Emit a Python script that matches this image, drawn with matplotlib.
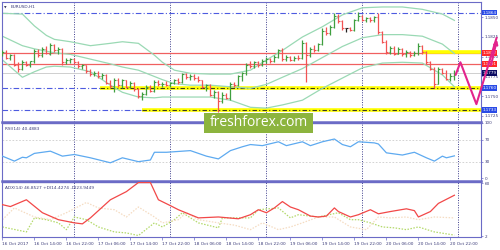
import matplotlib
matplotlib.use('Agg')
import matplotlib.pyplot as plt
from matplotlib.patches import Rectangle
import numpy as np

W, H = 500, 250
BASE, PIP = 1.17, 0.0001

# ---------------- data (prices in pips above 1.1700) ----------------
opens = [104,106,98,102,90,84,93,89,94,107, 102,110,104,115,108,110,93,96,97,93,
         88,89,82,78,80,75,77,67,63,71, 64,70,62,67,59,50,53,62,57,68,
         65,66,64,67,70,68,78,74,76,73, 70,62,64,52,55,44,52,48,66,64,
         75,79,90,88,93,89,95,97,94,100, 108,97,100,96,99,98,118,102,110,108,
         116,133,130,138,152,145,136,136,134,146, 151,147,149,146,150,131,119,106,111,104,
         110,103,106,102,105,114,106,93,85,66, 84,80,72,76]
highs = [108,109,104,103,93,96,95,95,110,110, 112,113,118,116,112,111,98,99,98,95,
         91,90,84,82,82,79,78,70,73,73, 72,71,69,68,61,55,64,64,70,70,
         68,69,68,72,73,80,79,78,78,76, 71,66,65,58,57,55,54,68,68,77,
         81,92,94,95,95,97,100,99,102,110, 111,102,101,101,102,121,119,112,115,118,
         136,138,140,155,154,147,137,138,148,157, 153,150,150,151,156,132,121,114,113,112,
         111,108,107,107,117,115,107,95,87,87, 86,83,79,83]
lows  = [101,97,96,88,81,83,88,87,92,100, 100,103,102,106,104,90,91,92,92,86,
         84,80,76,75,73,72,65,61,55,62, 61,60,60,57,48,45,51,55,56,63,
         62,63,62,65,66,67,72,71,71,68, 60,57,50,48,30,42,46,45,62,63,
         69,77,86,86,87,88,92,92,93,98, 95,95,95,95,96,97,68,100,106,107,
         115,128,127,136,143,134,131,132,133,145, 145,144,144,144,129,117,104,104,102,103,
         101,100,100,101,102,104,91,83,61,65, 78,70,69,70]
closes = [106,98,102,90,84,93,89,94,107,102, 110,105,115,108,110,93,96,97,93,88,
          89,82,78,80,75,77,67,63,71,64, 70,62,67,59,50,53,62,57,68,65,
          66,64,67,70,68,78,74,76,73,70, 62,64,52,55,44,52,48,66,64,75,
          79,90,88,93,89,95,97,94,100,108, 97,100,96,99,98,118,102,110,108,116,
          133,130,138,152,145,136,136,134,146,151, 147,149,146,150,131,119,106,111,104,110,
          103,106,102,105,114,106,93,85,66,84, 80,72,76,79]

bb_bars  = [0,5,8,11,13,17,22,27,30,34,38,40,43,47,52,57,62,66,70,75,80,85,90,95,100,105,110,113]
bb_upper = [155,154,139,127,122,119,114,117,119,117,102,93,83,79,78,78,83,96,108,125,138,153,162,163,163,160,154,146]
bb_mid   = [126,114,110,107,105,103,97,91,87,83,75,71,66,64,64,62,60,65,74,85,99,113,124,128,128,126,116,104]
bb_lower = [96,74,81,87,88,87,81,64,55,49,48,49,49,49,49,45,36,35,39,45,60,73,86,92,93,92,77,62]

rsi_bars = [0,3,5,6,8,12,15,18,22,27,30,34,37,38,41,45,47,51,54,57,60,62,65,69,71,75,77,80,83,85,87,89,93,94,96,100,103,106,108,110,111,113]
rsi_vals = [40,31,38,37,45,49,40,43,37,28,37,30,33,47,47,49,50,40,35,50,57,61,59,66,59,66,59,66,71,61,57,66,64,62,46,42,47,37,31,40,37,40.5]

adx_bars = [0,2,6,10,14,18,20,22,27,31,34,37,39,42,44,49,54,59,62,64,66,68,70,72,74,77,79,81,83,84,87,89,92,94,97,101,103,104,107,109,113]
adx_vals = [36.6,34.5,42,27.7,20,16.5,15.4,22,42,51,61,61,42,35.5,31,22,23,21,25.5,31,27.7,33,40,34,31,24,23,24,33,29,23,25.5,31,26.5,29,32,30,23,29,38,47]
pdi_bars = [0,6,8,11,14,16,18,21,24,28,31,34,38,40,43,45,49,54,55,58,62,64,69,72,74,79,84,87,89,92,95,98,101,104,108,113]
pdi_vals = [12,6.5,22,20,16.5,9,23,20,12,6.5,5.4,2.5,16.5,12,20,27.7,16.5,11,22,22,22,31,33,22,25.5,23,27.7,20,20,16.5,12,11,9,12,6.5,3]
mdi_bars = [0,3,8,12,16,21,24,28,31,34,38,40,44,46,49,54,58,62,65,69,72,75,79,83,87,91,94,97,101,104,108,113]
mdi_vals = [20,33,23,20,27.7,39,33,31,23,34,23,16.5,20,27.7,20,16.5,14,9,16.5,9,12,16.5,23,23,12,9,23,22,23,20,23,22]

price_ticks = [1.1850, 1.1825, 1.1800, 1.1775, 1.1750, 1.1725]
level_blue  = [1.1856, 1.1760, 1.1733]
level_red   = [1.1805, 1.1791]
level_bid   = 1.1779
box_labels  = [("1.1864", 1.1856, '#2a4be6'), ("1.1812", 1.1805, '#ff2a2a'),
               ("1.1791", 1.1791, '#ff2a2a'), ("1.1779", 1.1779, '#0c0c62'),
               ("1.1760", 1.1760, '#2a4be6'), ("1.1733", 1.1733, '#2a4be6')]
yellow_zones = [(24.5, 1.1760), (35.0, 1.1733), (105.0, 1.18055)]
arrow_bars   = [113.3, 114.5, 118.5, 123.8]
arrow_pips   = [77, 93, 40, 125]

time_labels = ["16 Oct 2017", "16 Oct 14:00", "16 Oct 22:00", "17 Oct 06:00", "17 Oct 14:00",
               "17 Oct 22:00", "18 Oct 06:00", "18 Oct 14:00", "18 Oct 22:00", "19 Oct 06:00",
               "19 Oct 14:00", "19 Oct 22:00", "20 Oct 06:00", "20 Oct 14:00", "20 Oct 22:00"]
time_bars = list(range(0, 113, 8))
day_bars = [18, 42, 66, 90, 114]

rsi_ticks = [100, 70, 30, 0]
adx_ticks = [60, 2]

# ---------------- figure ----------------
fig = plt.figure(figsize=(5, 2.5), dpi=100)
fig.patch.set_facecolor('white')

def rect(x0, y0, x1, y1):
    return [x0 / W, 1 - y1 / H, (x1 - x0) / W, (y1 - y0) / H]

FRAME = '#6b6bc6'
TXT = '#3a3a78'
FS = 3.1
FSR = 3.0

ax = fig.add_axes(rect(2, 2, 481, 122))
axr = fig.add_axes(rect(2, 123, 481, 181))
axa = fig.add_axes(rect(2, 182, 481, 237))

XL = (-0.1, 119.65)
for a in (ax, axr, axa):
    a.set_xlim(*XL)
    a.set_facecolor('white')
    for s in a.spines.values():
        s.set_color(FRAME)
        s.set_linewidth(0.8)
    a.tick_params(axis='both', colors=FRAME, labelcolor=TXT, labelsize=FSR, length=1.5, width=0.5, pad=1)
    a.yaxis.tick_right()
    a.set_xticks([])
    for d in day_bars:
        a.axvline(d, color='#3c3c8c', lw=0.7, ls=(0, (1, 1.5)), zorder=1)

ax.spines['bottom'].set_linewidth(1.8)
axr.spines['top'].set_linewidth(1.0)
axr.spines['bottom'].set_linewidth(1.8)
axa.spines['top'].set_linewidth(1.0)

# ---- main price panel ----
o = BASE + np.array(opens) * PIP
h = BASE + np.array(highs) * PIP
l = BASE + np.array(lows) * PIP
c = BASE + np.array(closes) * PIP
idx = np.arange(len(closes))
cols = np.where(c > o, '#3f9f3f', np.where(c < o, '#f25353', '#222222'))

ax.set_ylim(1.17174, 1.18693)
ax.set_yticks(price_ticks)
ax.set_yticklabels([f"{p:.4f}" for p in price_ticks])

for p in level_blue:
    ax.axhline(p, color='#4d5be0', lw=0.8, ls=(0, (5, 2, 1, 2)), zorder=2)
for p in level_red:
    ax.axhline(p, color='#f06060', lw=0.9, zorder=2)
ax.axhline(level_bid, color='#cfcfcf', lw=0.7, zorder=1.5)
for x0, p in yellow_zones:
    ax.plot([x0, XL[1]], [p, p], color='#ffff00', lw=2.6, solid_capstyle='butt', zorder=2.2)
for x0, p in yellow_zones[:2]:
    ax.plot([x0, XL[1]], [p, p], color='#3a3a20', lw=0.8, ls=(0, (4, 2, 1, 2)), zorder=2.3)

bbx = np.array(bb_bars)
for band in (bb_upper, bb_mid, bb_lower):
    ax.plot(bbx, BASE + np.array(band) * PIP, color='#9ad9b4', lw=0.9, zorder=2.5)

ax.vlines(idx, l, h, colors=cols, lw=0.9, zorder=3)
ax.hlines(o, idx - 0.45, idx, colors=cols, lw=0.8, zorder=3)
ax.hlines(c, idx, idx + 0.45, colors=cols, lw=0.8, zorder=3)

trans = ax.get_yaxis_transform()
for txt, p, col in box_labels:
    ax.text(1.003, p, txt, transform=trans, fontsize=FSR, color='white', va='center', ha='left',
            clip_on=False, zorder=6,
            bbox=dict(boxstyle='square,pad=0.22', fc=col, ec='none'))

ap = BASE + np.array(arrow_pips) * PIP
ax.plot(arrow_bars[:-1] + [arrow_bars[-1] - 0.25], list(ap[:-1]) + [ap[-1] - 0.00010],
        color='#e3248c', lw=1.5, clip_on=False, zorder=7, solid_capstyle='round', solid_joinstyle='round')
ax.annotate('', xy=(arrow_bars[-1], ap[-1]), xytext=(arrow_bars[-2] + 3.5, ap[-2] + 0.0046),
            arrowprops=dict(arrowstyle='-|>', color='#e3248c', lw=1.5, mutation_scale=6),
            annotation_clip=False, zorder=7)

ax.text(0.018, 0.975, "EURUSD,H1", transform=ax.transAxes, fontsize=FS, color=TXT, va='top', ha='left')
ax.text(0.004, 0.972, "\u25bc", transform=ax.transAxes, fontsize=2.4, color='#333355', va='top', ha='left')

# ---- RSI panel ----
axr.set_ylim(-5, 100)
axr.set_yticks(rsi_ticks)
for lv in (70, 30):
    axr.axhline(lv, color='#cccccc', lw=0.6, ls=(0, (2, 2)), zorder=1)
axr.plot(rsi_bars, rsi_vals, color='#5eaaf0', lw=0.9, zorder=3)
axr.text(0.006, 0.93, "RSI(14) 40.4883", transform=axr.transAxes, fontsize=FS, color=TXT, va='top', ha='left')

# ---- ADX panel ----
axa.set_ylim(0.9, 61.6)
axa.set_yticks(adx_ticks)
axa.plot(pdi_bars, pdi_vals, color='#b3d96a', lw=0.9, ls=(0, (1.2, 1.2)), zorder=2)
axa.plot(mdi_bars, mdi_vals, color='#f5dcc2', lw=0.9, ls=(0, (1.2, 1.2)), zorder=2)
axa.plot(adx_bars, adx_vals, color='#f24848', lw=0.9, zorder=3)
axa.text(0.006, 0.93, "ADX(14) 46.8527 +DI14.4274 -DI23.9449", transform=axa.transAxes,
         fontsize=FS, color=TXT, va='top', ha='left')
axa.set_xticks(time_bars)
axa.set_xticklabels(time_labels, ha='left')
axa.tick_params(axis='x', length=2, pad=1.5, labelsize=FS)

# ---- watermark ----
fig.add_artist(Rectangle((204 / W, 1 - 133 / H), 109 / W, 20 / H, transform=fig.transFigure,
                         fc='#8cb43e', ec='none', zorder=10))
fig.text(258.5 / W, 1 - 123 / H, "freshforex.com", fontsize=10, color='white', ha='center',
         va='center', family='Open Sans', zorder=11)

fig.savefig('out.png', dpi=100, facecolor='white')
